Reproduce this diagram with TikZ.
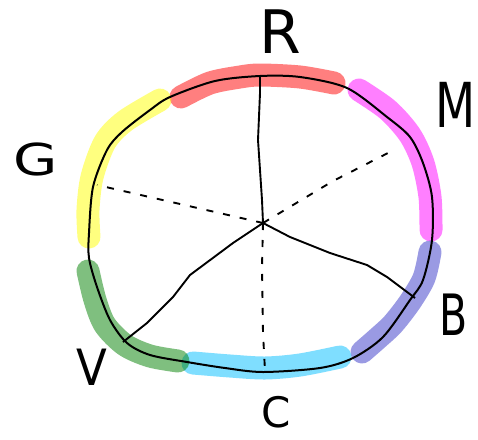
\documentclass[tikz,border=0pt]{standalone}
\usepackage{fontspec}
\setmainfont{DejaVu Sans}
\definecolor{cR}{RGB}{255,0,0}
\definecolor{cM}{RGB}{255,0,255}
\definecolor{cB}{RGB}{55,55,200}
\definecolor{cC}{RGB}{0,190,255}
\definecolor{cV}{RGB}{0,128,0}
\definecolor{cG}{RGB}{255,255,0}
\begin{document}
\begin{tikzpicture}[x=1pt,y=-1pt,
  hue/.style={line width=23pt,line cap=round,line join=round,opacity=0.5},
  rim/.style={line width=2pt,black},
  spoke/.style={line width=1.9pt,black,line join=round},
  dspoke/.style={line width=1.9pt,black,dash pattern=on 7pt off 10pt},
  lab/.style={anchor=base,inner sep=0pt}]
\useasboundingbox (0,0) rectangle (478,439);
\fill[white] (0,0) rectangle (478,439);
% colored arcs
\draw[hue,cR] plot[smooth] coordinates {(181,97) (210,83) (240,77) (260,75) (300,77) (334,83)};
\draw[hue,cM] plot[smooth] coordinates {(359,90) (388,110) (410,135) (423,163) (430,197) (431,230)};
\draw[hue,cB] plot[smooth] coordinates {(430,252) (424,278) (410,302) (393,324) (378,338) (362,352)};
\draw[hue,cC] plot[smooth] coordinates {(340,357) (300,365) (265,368) (230,366) (193,363)};
\draw[hue,cV] plot[smooth] coordinates {(88,271) (95,300) (105,325) (125,345) (150,356) (178,361)};
\draw[hue,cG] plot[smooth] coordinates {(89,237) (88,210) (92,177) (105,142) (125,121) (160,100)};
% rim
\draw[rim] plot[smooth cycle,tension=0.5] coordinates {(260,76) (300,77) (347,88) (387,117) (410,137) (423,163) (432,197) (432,240) (423,280) (410,300) (383,337) (353,358) (320,368) (263,372) (225,368) (187,362) (150,355) (127,343) (110,320) (97,287) (89,258) (89,233) (93,187) (107,150) (122,132) (150,110) (170,97) (215,81)};
% centre and ends
\coordinate (o) at (263,223);
\coordinate (eR) at (260,77);
\coordinate (eB) at (415,298);
\coordinate (eV) at (123,342);
\coordinate (eG) at (97,185);
\coordinate (eM) at (390,152);
\coordinate (eC) at (265,371);
\draw[spoke] (o) -- (262,200) -- (258,140) -- (260,93) -- (eR);
\draw[spoke] (o) -- (290,237) -- (330,253) -- (367,265) -- (387,277) -- (eB);
\draw[spoke] (o) -- (233,243) -- (190,275) -- (173,297) -- (147,323) -- (eV);
\draw[dspoke] (o) -- (eG);
\draw[dspoke] (o) -- (333,181) -- (eM);
\draw[dspoke] (o) -- (262,267) -- (263,333) -- (eC);
% labels
\node[lab,font=\fontsize{60}{60}\selectfont] (R) at (280,53) {R};
\node[lab,font=\fontsize{62}{62}\selectfont\addfontfeatures{FakeStretch=0.75}] (M) at (456,127) {M};
\node[lab,font=\fontsize{44}{44}\selectfont\addfontfeatures{FakeStretch=1.3}] (G) at (36,175) {G};
\node[lab,font=\fontsize{57}{57}\selectfont\addfontfeatures{FakeStretch=0.72}] (B) at (454,335) {B};
\node[lab,font=\fontsize{50}{50}\selectfont\addfontfeatures{FakeStretch=0.9}] (V) at (92,385) {V};
\node[lab,font=\fontsize{42}{42}\selectfont] (C) at (276,427) {C};
\end{tikzpicture}
\end{document}
